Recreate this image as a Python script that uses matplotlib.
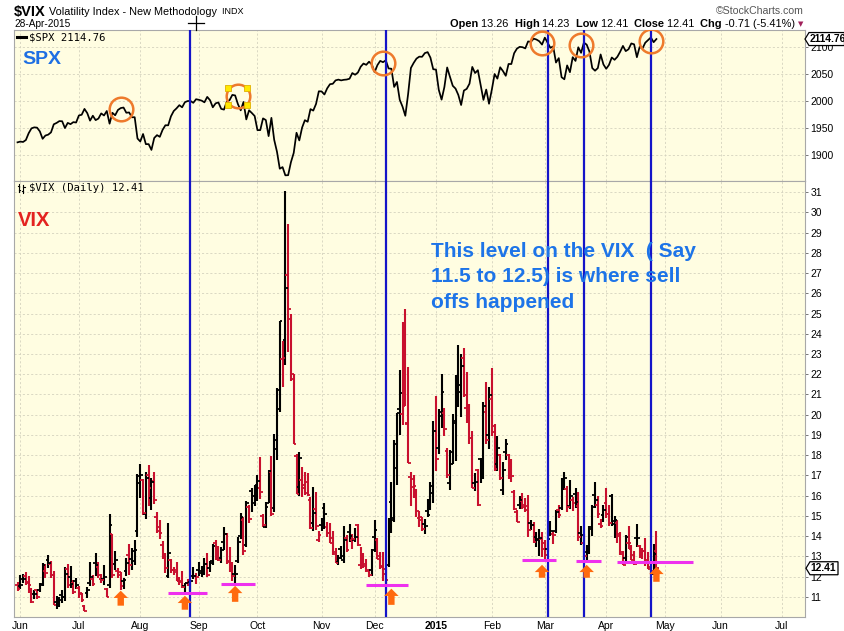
import numpy as np
import pandas as pd
import matplotlib
matplotlib.use("Agg")
import matplotlib.pyplot as plt
from matplotlib.patches import FancyArrow, Polygon
from matplotlib.lines import Line2D

# ------------------------------------------------------------------ data
holidays = ['2014-07-04', '2014-09-01', '2014-11-27', '2014-12-25', '2015-01-01',
            '2015-01-19', '2015-02-16', '2015-04-03', '2015-05-25', '2015-07-03']
start_date, data_end, axis_end = '2014-05-30', '2015-04-28', '2015-07-31'

spx_close = [1923.57,
    1924.97, 1924.24, 1927.88, 1940.46, 1949.44, 1951.27, 1950.79, 1943.89, 1930.11, 1936.16, 1937.78,
    1941.99, 1956.98, 1959.48, 1962.87, 1962.61, 1949.98, 1959.53, 1957.22, 1960.96, 1960.23,
    1973.32, 1974.62, 1985.44, 1977.65, 1963.71, 1972.83, 1964.68, 1967.57, 1977.10, 1973.28, 1981.57,
    1958.12, 1978.22, 1973.63, 1983.53, 1987.01, 1987.98, 1978.34, 1978.91, 1969.95, 1970.07, 1930.67,
    1925.15, 1938.99, 1920.21, 1920.24, 1909.57, 1931.59, 1936.92, 1933.75, 1946.72, 1955.18, 1955.06,
    1971.74, 1981.60, 1986.51, 1992.37, 1988.40, 1997.92, 2000.02, 2000.12, 1996.74, 2003.37,
    2002.28, 2000.72, 1997.65, 2007.71, 2001.54, 1988.44, 1995.69, 1997.45, 1985.54, 1984.13, 1998.98,
    2001.57, 2011.36, 2010.40, 1994.29, 1982.77, 1998.30, 1965.99, 1982.85, 1977.80, 1972.29,
    1946.16, 1946.17, 1967.90, 1964.82, 1935.10, 1968.89, 1928.21, 1906.13, 1874.74, 1877.70, 1862.49,
    1862.76, 1886.76, 1904.01, 1941.28, 1927.11, 1950.82, 1964.58, 1961.63, 1985.05, 1982.30, 1994.65, 2018.05,
    2017.81, 2012.10, 2023.57, 2031.21, 2031.92, 2038.26, 2039.68, 2038.25, 2039.33, 2039.82, 2041.32,
    2051.80, 2048.72, 2052.75, 2063.50, 2069.41, 2067.03, 2072.83, 2067.56,
    2053.44, 2066.55, 2074.33, 2071.92, 2075.37, 2060.31, 2059.82, 2026.14, 2035.33, 2002.33, 1989.63,
    1972.74, 2012.89, 2061.23, 2070.65, 2078.54, 2082.17, 2081.88, 2088.77, 2090.57, 2080.35, 2058.90,
    2058.20, 2020.58, 2002.61, 2025.90, 2062.14, 2044.81, 2028.26, 2023.03, 2011.27, 1992.67, 2019.42,
    2022.55, 2032.12, 2063.15, 2051.82, 2057.09, 2029.55, 2002.16, 2021.25, 1994.99,
    2020.85, 2050.03, 2041.51, 2062.52, 2055.47, 2046.74, 2068.59, 2068.53, 2088.48, 2096.99, 2100.34,
    2099.68, 2097.45, 2110.30, 2109.66, 2115.48, 2113.86, 2110.74, 2104.50,
    2117.39, 2107.78, 2098.53, 2101.04, 2071.26, 2079.43, 2044.16, 2040.24, 2065.95, 2053.40, 2081.19,
    2074.28, 2099.50, 2089.27, 2108.10, 2104.42, 2091.50, 2061.05, 2056.15, 2061.02, 2086.24, 2067.89,
    2059.69, 2066.96, 2080.62, 2076.33, 2081.90, 2091.18, 2102.06, 2092.43, 2095.84, 2106.63, 2104.99,
    2081.18, 2100.40, 2097.29, 2107.96, 2112.93, 2117.69, 2108.92, 2114.76]

vix_open = [11.57,
    11.52, 11.87, 12.05, 11.73, 11.37, 11.15, 11.34, 11.32, 11.62, 12.26, 12.83, 12.64, 12.08, 10.74, 10.72, 11.07, 10.99, 12.35, 11.99, 11.68, 11.76,
    11.45, 11.17, 10.55, 11.20, 11.69, 11.90, 12.69, 12.49, 11.88, 11.87, 11.36, 11.60, 14.09, 12.60, 12.27, 12.09, 11.79, 12.29, 13.07, 12.89, 12.77, 14.26,
    16.62, 16.78, 15.09, 17.03, 15.90, 16.70, 14.95, 14.45, 13.58, 12.90, 12.03, 12.84, 12.31, 12.31, 11.79, 11.73, 11.52, 11.69, 11.71, 12.01, 12.03,
    12.32, 12.17, 12.35, 12.61, 12.43, 12.78, 13.67, 13.44, 12.90, 13.70, 14.10, 12.79, 12.40, 12.12, 12.76, 14.02, 14.80, 13.56, 15.43, 16.22, 15.64,
    16.52, 16.40, 14.98, 14.44, 15.65, 17.16, 15.38, 18.28, 20.29, 22.76, 23.70, 26.90, 24.75, 21.78, 17.98, 16.41, 16.77, 16.36, 16.66, 15.80, 14.65, 15.32, 13.79,
    14.56, 15.40, 14.47, 14.17, 13.88, 13.23, 12.70, 13.37, 12.82, 13.90, 14.20, 13.81, 13.79, 14.55, 12.58, 13.09, 12.53, 12.33, 12.34,
    13.96, 13.82, 13.01, 12.54, 12.14, 12.55, 15.70, 14.78, 17.38, 20.27, 20.05, 22.16, 19.59, 16.91, 16.41, 16.10, 14.90, 14.93, 14.58, 15.25, 15.78, 16.11,
    19.19, 18.37, 20.12, 20.07, 18.22, 16.63, 18.16, 19.70, 21.84, 21.14, 22.79, 20.32, 20.00, 18.85, 16.61, 17.29, 17.79, 17.25, 20.15, 18.99,
    20.76, 19.12, 17.54, 17.99, 16.26, 18.17, 17.99, 17.36, 16.20, 15.20, 15.53, 15.74, 15.52, 15.47, 14.67, 14.53, 13.94, 13.82, 13.87,
    13.67, 13.35, 14.08, 14.08, 14.27, 15.31, 15.40, 16.60, 16.34, 15.47, 15.79, 16.08, 15.47, 14.17, 13.66, 13.19, 13.37, 14.35, 16.05, 15.52, 14.58, 15.05,
    15.62, 15.08, 15.98, 14.61, 14.67, 14.08, 13.23, 12.92, 13.67, 13.37, 13.06, 13.89, 13.49, 13.20, 13.27, 12.80, 12.35, 12.11, 13.26]

vix_high = [11.72,
    12.06, 12.15, 12.21, 12.05, 11.45, 11.33, 11.36, 11.69, 12.69, 12.61, 13.07, 12.76, 12.28, 11.05, 10.98, 11.32, 12.47, 12.62, 12.52, 11.82, 11.92,
    11.55, 11.19, 10.58, 11.47, 12.70, 12.09, 13.17, 12.73, 12.11, 12.55, 11.42, 15.10, 14.09, 13.27, 12.43, 12.24, 11.95, 12.90, 13.59, 13.40, 13.80, 17.06,
    17.57, 16.81, 17.17, 17.49, 16.86, 17.19, 15.20, 14.79, 13.75, 13.16, 14.64, 12.86, 12.47, 12.71, 11.99, 12.26, 11.70, 11.88, 11.86, 12.49, 12.17,
    12.73, 12.50, 12.92, 13.14, 12.78, 13.62, 13.82, 13.52, 13.48, 14.45, 14.15, 13.48, 12.71, 12.58, 13.93, 15.13, 14.96, 15.71, 15.55, 16.40, 16.54,
    17.01, 17.91, 15.07, 15.70, 17.29, 17.95, 19.06, 21.30, 24.64, 23.63, 31.06, 29.44, 24.96, 22.01, 18.06, 18.15, 17.39, 17.16, 17.10, 15.92, 16.42, 16.19, 14.23,
    14.90, 15.61, 14.70, 14.63, 14.24, 13.42, 13.06, 13.52, 14.50, 14.04, 14.58, 14.11, 14.42, 14.59, 13.45, 13.14, 12.88, 12.38, 13.36,
    14.79, 13.88, 13.19, 13.21, 12.35, 14.88, 16.68, 18.77, 20.08, 22.20, 24.58, 25.20, 22.36, 17.19, 17.01, 16.32, 15.25, 14.96, 14.86, 15.81, 16.68, 19.70,
    20.92, 20.29, 22.03, 20.34, 18.35, 18.26, 20.02, 21.95, 23.43, 22.99, 23.31, 22.13, 20.54, 19.18, 17.10, 17.31, 17.87, 20.64, 21.61, 21.39,
    22.29, 19.52, 18.94, 18.08, 17.64, 18.80, 18.07, 17.83, 16.29, 15.29, 16.00, 16.13, 15.89, 16.03, 14.81, 14.70, 14.21, 14.35, 14.22,
    13.83, 14.26, 14.76, 14.23, 15.29, 15.54, 16.89, 17.19, 16.47, 16.76, 15.93, 16.40, 16.17, 14.51, 14.09, 13.57, 14.50, 15.53, 16.66, 15.97, 14.83, 15.54,
    16.36, 15.53, 16.10, 14.99, 14.81, 14.18, 13.26, 14.04, 14.52, 13.55, 13.24, 14.62, 13.54, 13.42, 13.89, 13.19, 12.85, 13.61, 14.23]

vix_low = [11.29,
    11.39, 11.70, 11.58, 11.18, 10.70, 10.91, 10.89, 11.23, 11.52, 11.92, 12.42, 11.91, 10.57, 10.42, 10.50, 10.71, 10.81, 11.42, 11.41, 11.15, 11.39,
    10.95, 10.73, 10.28, 10.95, 11.51, 11.52, 12.02, 11.93, 11.67, 11.57, 10.98, 11.43, 11.94, 12.33, 11.95, 11.33, 11.38, 12.03, 12.08, 12.32, 12.56, 13.93,
    15.86, 15.03, 14.86, 15.50, 15.27, 15.60, 14.17, 13.85, 12.85, 12.19, 11.94, 12.18, 12.10, 11.76, 11.60, 11.42, 11.22, 11.54, 11.29, 11.87, 11.65,
    12.04, 11.99, 12.07, 11.96, 12.24, 12.57, 12.82, 12.75, 12.69, 13.33, 12.60, 12.20, 11.80, 11.65, 12.67, 13.84, 13.07, 13.48, 14.66, 15.20, 15.49,
    15.73, 15.84, 14.47, 14.39, 15.62, 14.98, 15.20, 17.77, 20.12, 21.38, 22.48, 23.08, 21.66, 18.57, 16.08, 16.00, 15.91, 16.01, 15.96, 14.37, 14.27, 14.29, 13.73,
    14.24, 14.33, 13.97, 13.64, 13.08, 12.65, 12.58, 12.87, 12.65, 13.23, 13.70, 13.37, 13.72, 13.50, 12.35, 12.41, 12.21, 12.00, 12.05,
    13.20, 12.85, 12.37, 11.80, 11.63, 12.49, 14.15, 14.70, 16.51, 19.02, 19.47, 20.43, 17.61, 15.48, 15.88, 14.96, 14.45, 14.23, 14.10, 14.93, 15.31, 15.62,
    17.23, 18.07, 19.32, 18.94, 16.88, 16.30, 17.54, 17.70, 20.36, 19.91, 20.89, 19.61, 18.57, 16.40, 16.21, 15.47, 16.64, 16.84, 18.53, 18.32,
    18.93, 17.21, 17.20, 16.78, 16.01, 17.78, 16.83, 16.67, 15.31, 14.69, 15.32, 15.33, 15.18, 13.95, 14.30, 13.64, 13.45, 13.02, 12.96,
    12.88, 13.21, 13.99, 13.61, 14.14, 14.87, 15.27, 16.28, 15.21, 15.33, 15.24, 15.41, 13.76, 13.58, 12.92, 12.78, 13.10, 14.00, 15.38, 14.91, 14.40, 14.69,
    14.88, 14.50, 14.48, 13.92, 13.66, 13.07, 12.58, 12.64, 13.34, 12.81, 12.58, 13.45, 12.94, 12.88, 12.53, 12.39, 12.15, 12.08, 12.41]

vix_close = [11.40,
    11.58, 11.87, 11.68, 11.60, 10.73, 11.15, 10.99, 11.60, 12.56, 12.18, 12.65, 12.06, 10.61, 10.62, 10.85, 10.98, 12.13, 11.59, 11.63, 11.26, 11.57,
    11.15, 10.82, 10.32, 11.33, 11.98, 11.65, 12.59, 12.08, 11.82, 11.96, 11.00, 14.54, 12.06, 12.81, 12.24, 11.52, 11.84, 12.69, 12.56, 13.28, 13.33, 16.95,
    17.03, 15.12, 16.87, 16.37, 16.66, 15.77, 14.23, 14.13, 12.90, 12.42, 13.15, 12.32, 12.21, 11.78, 11.76, 11.47, 11.70, 11.63, 11.78, 12.05, 11.98,
    12.25, 12.36, 12.64, 12.09, 12.66, 13.50, 12.88, 12.80, 13.31, 14.12, 12.73, 12.65, 12.03, 12.11, 13.69, 14.93, 13.27, 15.64, 14.85, 15.98, 16.31,
    16.71, 16.16, 14.55, 15.46, 17.20, 15.11, 18.76, 21.24, 24.64, 22.79, 26.25, 25.20, 21.99, 18.57, 16.08, 17.87, 16.53, 16.11, 16.04, 14.39, 15.15, 14.52, 14.03,
    14.73, 15.10, 14.17, 13.67, 13.12, 12.67, 12.92, 13.02, 13.79, 13.31, 13.99, 13.86, 13.96, 13.58, 12.90, 12.62, 12.25, 12.07, 13.33,
    14.29, 12.85, 12.47, 12.38, 11.82, 14.21, 14.89, 18.53, 20.08, 21.08, 20.42, 19.52, 17.61, 16.81, 16.49, 15.25, 14.80, 14.37, 14.50, 15.06, 16.49, 19.20,
    17.79, 19.92, 21.12, 19.31, 17.01, 17.55, 19.60, 20.56, 21.48, 22.39, 20.95, 19.89, 18.85, 16.40, 16.66, 15.52, 17.22, 20.44, 18.76, 20.97,
    19.43, 17.33, 18.33, 16.85, 17.29, 18.55, 17.23, 16.96, 15.34, 14.69, 15.80, 15.45, 15.29, 14.30, 14.56, 13.69, 13.84, 13.91, 13.34,
    13.04, 13.86, 14.23, 14.04, 15.20, 15.06, 16.69, 16.87, 15.42, 16.00, 15.61, 15.66, 13.97, 14.07, 13.02, 13.41, 14.43, 15.44, 15.80, 15.07, 14.51, 15.29,
    15.11, 14.67, 14.74, 14.78, 13.98, 13.09, 12.58, 13.94, 13.67, 12.84, 12.60, 13.89, 13.30, 13.25, 12.71, 12.48, 12.29, 13.12, 12.41]

spx_ticks = [1900, 1950, 2000, 2050, 2100]
vix_ticks = list(range(11, 32))
month_labels = ['Jun', 'Jul', 'Aug', 'Sep', 'Oct', 'Nov', 'Dec', '2015',
                'Feb', 'Mar', 'Apr', 'May', 'Jun', 'Jul']

# annotations (in data space)
signal_dates = ['2014-08-27', '2014-12-05', '2015-03-03', '2015-03-20', '2015-04-24']
spx_circles = [('2014-07-23', 1985), ('2014-09-22', 2009), ('2014-12-04', 2070),
               ('2015-02-27', 2108), ('2015-03-19', 2103), ('2015-04-24', 2112)]
support_lines = [('2014-08-15', '2014-09-05', 11.21), ('2014-09-12', '2014-09-30', 11.64),
                 ('2014-11-25', '2014-12-17', 11.60), ('2015-02-18', '2015-03-06', 12.81),
                 ('2015-03-17', '2015-03-30', 12.76), ('2015-04-08', '2015-05-15', 12.71)]
up_arrows = [('2014-07-23', 10.56, 11.30), ('2014-08-25', 10.36, 11.05), ('2014-09-19', 10.75, 11.54),
             ('2014-12-09', 10.60, 11.40), ('2015-02-27', 11.94, 12.58), ('2015-03-23', 11.94, 12.58),
             ('2015-04-28', 11.74, 12.48)]
note_text = "This level on the VIX  ( Say\n11.5 to 12.5) is where sell\noffs happened"

# ------------------------------------------------------------------ calendar
cal = pd.bdate_range(start_date, axis_end)
cal = cal[~cal.isin(pd.to_datetime(holidays))]
pos_all = np.arange(len(cal)) - 1          # 2 Jun 2014 -> 0
date_pos = dict(zip(cal, pos_all))
def xp(d):
    return date_pos[pd.Timestamp(d)]

n = int((cal <= pd.Timestamp(data_end)).sum())
assert n == len(spx_close) == len(vix_open) == len(vix_high) == len(vix_low) == len(vix_close), \
    (n, len(spx_close), len(vix_open), len(vix_high), len(vix_low), len(vix_close))
x = pos_all[:n]
o, h, l, c = map(np.array, (vix_open, vix_high, vix_low, vix_close))

s = pd.Series(pos_all, index=cal)
s = s[s.index >= pd.Timestamp('2014-06-01')]
month_first = s.groupby([s.index.year, s.index.month]).first().values[:len(month_labels)]

# ------------------------------------------------------------------ figure
W, H = 845, 631
fig = plt.figure(figsize=(W / 100, H / 100), dpi=100, facecolor='white')
def fx(px): return px / W
def fy(py): return 1 - py / H

L, R = 14, 805
ax1 = fig.add_axes([fx(L), fy(181), (R - L) / W, (181 - 30) / H])
ax2 = fig.add_axes([fx(L), fy(617), (R - L) / W, (617 - 181) / H], sharex=ax1)

BG = '#FFFDE1'
GRID = '#D4D2BE'
for ax in (ax1, ax2):
    ax.set_facecolor(BG)
    for sp in ax.spines.values():
        sp.set_color('#A8A8A8')
        sp.set_linewidth(0.8)
    ax.yaxis.tick_right()
    ax.tick_params(axis='y', which='both', length=2.5, width=0.6, color='#606060', pad=1.5,
                   labelsize=7.5, labelcolor='black', left=False, right=True)
    ax.tick_params(axis='x', length=0)
    ax.grid(True, color=GRID, linestyle=(0, (2.5, 2.5)), linewidth=0.6)
    ax.set_axisbelow(True)

ax1.set_xlim((L - 20.3) / 2.79, (R - 20.3) / 2.79)
ax1.set_xticks(month_first)
ax1.tick_params(axis='x', labelbottom=False)
ax2.set_xticklabels(month_labels)
ax2.tick_params(axis='x', labelsize=7.5, pad=3)
for t in ax2.get_xticklabels():
    t.set_fontfamily('Liberation Sans')
    if t.get_text() == '2015':
        t.set_fontweight('bold')

# SPX panel
ax1.plot(x, spx_close, color='black', lw=1.25, solid_joinstyle='round', zorder=3)
ax1.set_ylim(1852, 2131.5)
ax1.set_yticks(spx_ticks)
ax1.set_yticklabels([str(v) for v in spx_ticks], fontfamily='Liberation Sans', fontsize=7.5)

# VIX panel OHLC bars
prev = np.concatenate([[o[0]], c[:-1]])
cols = np.where(c >= prev, '#000000', '#C8102E')
ax2.vlines(x, l, h, colors=cols, lw=1.5, zorder=3)
ax2.hlines(o, x - 0.95, x, colors=cols, lw=1.3, zorder=3)
ax2.hlines(c, x, x + 0.95, colors=cols, lw=1.3, zorder=3)
ax2.set_ylim(10.0, 31.55)
ax2.set_yticks(vix_ticks)
ax2.set_yticklabels([str(v) for v in vix_ticks], fontfamily='Liberation Sans', fontsize=7.5)

# signal lines
for d in signal_dates:
    for ax in (ax1, ax2):
        ax.axvline(xp(d), color='#1414C8', lw=1.6, zorder=5)

# circles on SPX
ORANGE = '#EE7A2C'
for d, v in spx_circles:
    ax1.plot([xp(d)], [v], marker='o', ms=17, mfc='none', mec=ORANGE, mew=1.8, zorder=6)
# selection handles around second circle
d2, v2 = spx_circles[1]
hx = [xp(d2) - 3.4, xp(d2) + 3.4, xp(d2) - 3.4, xp(d2) + 3.4]
hy = [v2 + 15.5, v2 + 15.5, v2 - 15.5, v2 - 15.5]
ax1.scatter(hx, hy, marker='s', s=22, c='#FFE800', edgecolors='#E0B000', linewidths=0.6, zorder=7)

# support lines and arrows on VIX
for d0, d1, v in support_lines:
    ax2.plot([xp(d0), xp(d1)], [v, v], color='#EE30EE', lw=2.2, solid_capstyle='butt', zorder=6)
for d, y0, y1 in up_arrows:
    ax2.add_patch(FancyArrow(xp(d), y0, 0, y1 - y0, width=2.3, head_width=5.2,
                             head_length=0.36, length_includes_head=True,
                             color='#FF6A0E', lw=0, zorder=6))

# ------------------------------------------------------------------ texts
fig.canvas.draw()
rend = fig.canvas.get_renderer()

def seq_text(xpx, ypx, parts, gap=0):
    for txt, kw in parts:
        t = fig.text(fx(xpx), fy(ypx), txt, va='center', ha='left', **kw)
        bb = t.get_window_extent(renderer=rend)
        xpx += bb.width + gap

sans = 'Liberation Sans'
seq_text(14, 12, [('$VIX', dict(fontsize=10.5, fontweight='bold', family=sans)),
                  (' Volatility Index - New Methodology', dict(fontsize=7.8, family=sans)),
                  ('  INDX', dict(fontsize=6.5, family=sans))])
fig.text(fx(14), fy(24), '28-Apr-2015', fontsize=7.3, family=sans, va='center')
fig.text(fx(804), fy(11.5), '\u00a9StockCharts.com', fontsize=7.6, family=sans,
         color='#555555', va='center', ha='right')
B = dict(fontsize=7.9, fontweight='bold', family=sans)
N = dict(fontsize=7.9, family=sans)
seq_text(450, 24, [('Open ', B), ('13.26  ', N), ('High ', B), ('14.23  ', N), ('Low ', B),
                   ('12.41  ', N), ('Close ', B), ('12.41  ', N), ('Chg ', B), ('-0.71 (-5.41%)', N)])
fig.text(fx(801), fy(24.5), '\u25BC', fontsize=5, color='#A0205A', va='center', ha='center',
         family='DejaVu Sans')

# crosshair cursor
fig.add_artist(Line2D([fx(188), fx(204)], [fy(22.5), fy(22.5)], color='black', lw=0.9))
fig.add_artist(Line2D([fx(196), fx(196)], [fy(15.5), fy(30)], color='black', lw=0.9))

mono = 'DejaVu Sans Mono'
fig.add_artist(Line2D([fx(17), fx(26)], [fy(37), fy(37)], color='black', lw=2.2))
fig.text(fx(29), fy(37), '$SPX 2114.76', fontsize=7.6, family=mono, va='center')
fig.text(fx(22), fy(59), 'SPX', fontsize=14, fontweight='bold', family=sans, color='#1E6FE3',
         va='center')

# ohlc icon and VIX legend
for (xx, ya, yb, yo, yc) in [(19, 184, 192, 186, 190), (23.5, 185, 193, 191, 187)]:
    fig.add_artist(Line2D([fx(xx), fx(xx)], [fy(ya), fy(yb)], color='black', lw=0.8))
    fig.add_artist(Line2D([fx(xx - 1.5), fx(xx)], [fy(yo), fy(yo)], color='black', lw=0.8))
    fig.add_artist(Line2D([fx(xx), fx(xx + 1.5)], [fy(yc), fy(yc)], color='black', lw=0.8))
fig.text(fx(29), fy(188), '$VIX (Daily) 12.41', fontsize=7.6, family=mono, va='center')
fig.text(fx(18), fy(221), 'VIX', fontsize=14.5, fontweight='bold', family=sans, color='#E32320',
         va='center')

fig.text(fx(431), fy(242), note_text, fontsize=15, fontweight='bold', family=sans,
         color='#1D74E8', va='top', ha='left', linespacing=1.42)

# value tags at right
def tag(ax, value, label, width, x0=805):
    ydisp = ax.transData.transform((0, value))[1]
    ypx = H - ydisp
    hh = 6.5
    pts = [(x0, ypx), (x0 + 4, ypx - hh), (x0 + width, ypx - hh), (x0 + width, ypx + hh),
           (x0 + 4, ypx + hh)]
    fig.add_artist(Polygon([(fx(a), fy(b)) for a, b in pts], closed=True, fc='white',
                           ec='black', lw=0.9, transform=fig.transFigure, zorder=10))
    fig.text(fx(x0 + 4.5), fy(ypx), label, fontsize=7.4, fontweight='bold', family=sans,
             va='center', ha='left', zorder=11)

tag(ax1, spx_close[-1], '2114.76', 39.5)
tag(ax2, vix_close[-1], '12.41', 32, x0=806)

fig.savefig('out.png', dpi=100, facecolor='white')
